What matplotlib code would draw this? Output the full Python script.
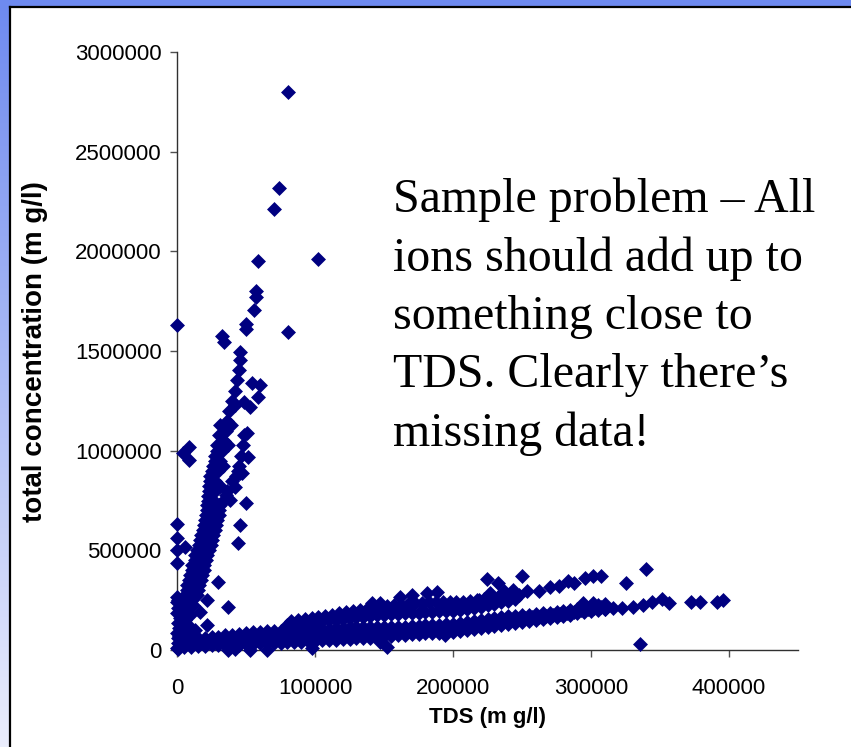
import matplotlib
matplotlib.use("Agg")
import numpy as np
import matplotlib.pyplot as plt
from matplotlib.patches import Rectangle
from matplotlib.lines import Line2D

# ---- data (TDS vs total concentration, mg/l) ----
# steep band (ions summed far above TDS)
steep_x = [5800, 7300, 9100, 10900, 13000, 14900, 16700, 18800, 21000, 22800, 24600, 25700,
           26800, 27500, 27600, 29400, 31200, 32600, 34000, 35200, 36300, 38000, 39900, 41700,
           43500, 44600, 45700, 45700]
steep_y = [150000, 200000, 250000, 300000, 350000, 400000, 450000, 500000, 550000, 600000,
           650000, 700000, 750000, 800000, 850000, 900000, 950000, 1000000, 1050000, 1100000,
           1150000, 1200000, 1250000, 1300000, 1355000, 1405000, 1455000, 1495000]
steep_left_x = [3000, 4500, 3800, 5600, 7400, 9400, 11200, 13400, 15600, 17400, 19600, 21000,
                22100, 22800, 23200, 23900, 26100, 27500, 29000, 30400, 31500]
steep_left_y = [75000, 110000, 225000, 275000, 325000, 375000, 425000, 475000, 525000, 575000,
                625000, 675000, 725000, 775000, 825000, 875000, 925000, 975000, 1030000,
                1080000, 1130000]
steep_mid_x = [8000, 9500, 11500, 13200, 15000, 17000, 19000, 21000, 23000, 25000, 26800, 28000]
steep_mid_y = [125000, 175000, 225000, 275000, 325000, 375000, 425000, 475000, 525000, 575000,
               625000, 675000]
steep_right_x = [14300, 16200, 18100, 19900, 22100, 24300, 26100, 28300, 30100, 30400, 31200,
                 33400, 37000, 39200, 42000]
steep_right_y = [275000, 325000, 375000, 425000, 475000, 525000, 575000, 625000, 675000,
                 725000, 825000, 925000, 1028000, 1128000, 1228000]
steep_fill_x = [7000, 15400, 9000, 17500, 11000, 19400, 12700, 21200, 14800, 23300, 17000,
                25500, 18800, 27300, 20600, 29100, 21700, 30200, 22800, 33000, 23500, 24000,
                25500, 27500, 29000, 36000, 40000, 44000]
steep_fill_y = [300000, 300000, 350000, 350000, 400000, 400000, 450000, 450000, 500000,
                500000, 550000, 550000, 600000, 600000, 650000, 650000, 700000, 700000,
                750000, 750000, 800000, 850000, 900000, 950000, 1000000, 800000, 850000,
                900000]
branch_x = [31200, 35500, 38400, 42000, 42800, 45000, 45700, 47100, 46400, 47900, 48600,
            50700, 51500, 52900, 58700, 60200, 54400, 48600]
branch_y = [725000, 777000, 752000, 817000, 875000, 925000, 888000, 888000, 975000, 1030000,
            1080000, 1088000, 968000, 1219000, 1269000, 1329000, 1339000, 1244000]

# points hugging the y axis / the blob at the origin
axis_x = [0, 500, 1000, 0, 1500, 500, 2000, 0, 1000, 2500, 0, 1500, 0, 500, 0, 0, 0, 0,
          5800, 4400, 8700, 8700, 0, 2000, 4000, 6000, 3000, 5000, 2500, 4500, 1000, 6500,
          8000, 10000]
axis_y = [10000, 35000, 60000, 85000, 110000, 135000, 160000, 185000, 210000, 40000, 240000,
          70000, 265000, 5000, 436000, 501500, 562000, 632000, 516500, 988000, 1018000,
          953000, 1630000, 20000, 30000, 80000, 130000, 160000, 190000, 210000, 250000,
          120000, 60000, 90000]

# flat lower band: bottom, middle and top rows
low_bot_x = [5000, 10000, 15000, 20000, 25000, 30000, 35000, 40000, 45000, 50000, 55000,
             60000, 65000, 70000, 75000, 80000, 85000, 90000, 95000, 100000, 105000, 110000,
             115000, 120000, 125000, 130000, 135000, 140000, 145000, 150000, 155000, 160000,
             165000, 170000, 175000, 180000, 185000, 190000, 195000, 200000, 205000, 210000,
             215000, 220000, 225000, 230000, 235000, 240000, 245000, 250000, 255000, 260000,
             265000, 270000, 275000, 280000, 285000, 290000, 295000, 300000, 305000, 310000]
low_bot_y = [13000, 16000, 19000, 22000, 24000, 23000, 23000, 25000, 27000, 30000, 32000,
             33000, 35000, 35000, 37000, 38000, 39000, 42000, 44000, 46000, 48000, 50000,
             52000, 55000, 57000, 59000, 60000, 62000, 65000, 68000, 71000, 75000, 77000,
             79000, 81000, 83000, 85000, 87000, 89000, 91000, 94000, 98000, 103000, 108000,
             114000, 120000, 126000, 130000, 135000, 140000, 146000, 151000, 156000, 162000,
             167000, 173000, 178000, 184000, 190000, 196000, 202000, 208000]
low_mid_x = [2500, 7500, 12500, 17500, 22500, 27500, 32500, 37500, 42500, 47500, 52500,
             57500, 62500, 67500, 72500, 77500, 82500, 87500, 92500, 97500, 102500, 107500,
             112500, 117500, 122500, 127500, 132500, 137500, 142500, 147500, 152500, 157500,
             162500, 167500, 172500, 177500, 182500, 187500, 192500, 197500, 202500, 207500,
             212500, 217500, 222500, 227500, 232500, 237500, 242500, 247500, 252500, 257500,
             262500, 267500, 272500, 277500, 282500, 287500, 292500, 297500, 302500, 307500]
low_mid_y = [31000, 35000, 38000, 41000, 43000, 45000, 47000, 50000, 53000, 56000, 59000,
             61000, 63000, 65000, 66000, 68000, 69000, 70000, 71000, 73000, 75000, 77000,
             79000, 82000, 84000, 86000, 88000, 89000, 90000, 92000, 93000, 94000, 96000,
             98000, 100000, 102000, 104000, 106000, 108000, 110000, 113000, 116000, 121000,
             126000, 131000, 137000, 143000, 148000, 152000, 156000, 160000, 164000, 168000,
             173000, 178000, 183000, 188000, 193000, 199000, 205000, 211000, 217000]
low_top_x = low_bot_x
low_top_y = [53000, 56000, 59000, 62000, 64000, 67000, 73000, 77000, 81000, 86000, 88000,
             91000, 93000, 95000, 97000, 98000, 99000, 98000, 100000, 102000, 104000, 106000,
             108000, 111000, 113000, 115000, 116000, 116000, 117000, 116000, 115000, 115000,
             117000, 119000, 121000, 123000, 125000, 127000, 129000, 131000, 134000, 138000,
             143000, 148000, 154000, 160000, 166000, 170000, 173000, 176000, 178000, 180000,
             184000, 188000, 192000, 197000, 202000, 208000, 214000, 220000, 226000, 232000]

# second (upper) flat band
mid_bot_x = [80000, 85000, 90000, 95000, 100000, 105000, 110000, 115000, 120000, 125000,
             130000, 135000, 140000, 145000, 150000, 155000, 160000, 165000, 170000, 175000,
             180000, 185000, 190000, 195000, 200000, 205000, 210000, 215000, 220000, 225000,
             230000, 235000, 240000, 245000]
mid_bot_y = [125000, 128000, 132000, 136000, 140000, 144000, 148000, 152000, 156000, 160000,
             164000, 168000, 172000, 175000, 178000, 180000, 182000, 184000, 186000, 188000,
             190000, 192000, 194000, 196000, 198000, 201000, 205000, 210000, 216000, 224000,
             232000, 240000, 248000, 255000]
mid_top_x = [82500, 87500, 92500, 97500, 102500, 107500, 112500, 117500, 122500, 127500,
             132500, 137500, 142500, 147500, 152500, 157500, 162500, 167500, 172500, 177500,
             182500, 187500, 192500, 197500, 202500, 207500, 212500, 217500, 222500, 227500,
             232500, 237500, 242500, 247500]
mid_top_y = [145000, 150000, 155000, 160000, 165000, 172000, 178000, 184000, 190000, 196000,
             201000, 206000, 211000, 216000, 220000, 224000, 228000, 232000, 235000, 238000,
             240000, 242000, 242000, 241000, 241000, 242000, 245000, 249000, 254000, 259000,
             264000, 269000, 274000, 278000]

# sparse tails and outliers
tail_x = [224700, 232700, 250000, 253700, 262500, 270400, 277000, 283500, 288000, 295800,
          301600, 307400, 325500, 340000, 181000, 188500, 161700, 170000, 141000, 147000,
          227000, 243600, 237000, 219000,
          294000, 301600, 310000, 316000, 322500, 330600, 337800, 344400, 351600, 356700,
          372600, 379200, 391500, 395900, 335700]
tail_y = [356000, 336000, 371000, 296000, 296000, 316000, 321000, 346000, 336000, 361000,
          371000, 371000, 336000, 406000, 286000, 291000, 266000, 276000, 236000, 236000,
          286000, 301000, 296000, 251000,
          236000, 235000, 205000, 211000, 211000, 216000, 225000, 241000, 256000, 236000,
          241000, 241000, 241000, 251000, 30000]
outlier_x = [80500, 74000, 70300, 58700, 102000, 57300, 57300, 55800, 50000, 50000, 32600,
             34000, 80500, 50000, 45700, 44200, 29700, 21700, 16700, 21700, 37000, 13000,
             37000, 42000, 53000, 65000, 97900, 147000, 152000, 194300]
outlier_y = [2798000, 2317000, 2211000, 1951000, 1961000, 1800000, 1770000, 1705000, 1635000,
             1610000, 1575000, 1545000, 1595000, 737000, 627000, 537000, 341000, 250000,
             190000, 125000, 215000, 100000, 0, 5000, 0, 0, 10000, 40000, 15000, 75000]

x_ticks = [0, 100000, 200000, 300000, 400000]
x_tick_labels = ["0", "100000", "200000", "300000", "400000"]
y_ticks = [0, 500000, 1000000, 1500000, 2000000, 2500000, 3000000]
y_tick_labels = ["0", "500000", "1000000", "1500000", "2000000", "2500000", "3000000"]

note = ("Sample problem \u2013 All\nions should add up to\nsomething close to\n"
        "TDS. Clearly there\u2019s\nmissing data!")

plt.rcParams['font.family'] = ['Liberation Sans', 'DejaVu Sans']

W, H = 851, 747
fig = plt.figure(figsize=(W / 100, H / 100), dpi=100, facecolor='white')

# slide frame: blue strip on top, gradient strip on the left, thin black edge
grad = np.linspace(0, 1, 256).reshape(-1, 1)
top_col = np.array([0.43, 0.54, 0.94])
bot_col = np.array([0.92, 0.93, 0.99])
strip = top_col + (bot_col - top_col) * grad[:, :, None]
frame_ax = fig.add_axes([0, 0, 9 / W, 1])
frame_ax.imshow(strip, aspect='auto', extent=(0, 1, 0, 1))
frame_ax.set_axis_off()
fig.patches.append(Rectangle((0, 1 - 6 / H), 1, 6 / H, transform=fig.transFigure,
                             facecolor=top_col, edgecolor='none', zorder=1))
fig.lines.append(Line2D([9.5 / W, 1], [1 - 7 / H, 1 - 7 / H], transform=fig.transFigure,
                        color='black', linewidth=1.6))
fig.lines.append(Line2D([9.5 / W, 9.5 / W], [0, 1 - 7 / H], transform=fig.transFigure,
                        color='black', linewidth=1.6))

ax = fig.add_axes([177 / W, (H - 650) / H, 621 / W, 598 / H])

xs = steep_x + steep_left_x + steep_mid_x + steep_right_x + steep_fill_x + branch_x + \
    axis_x + low_bot_x + low_mid_x + low_top_x + mid_bot_x + mid_top_x + tail_x + outlier_x
ys = steep_y + steep_left_y + steep_mid_y + steep_right_y + steep_fill_y + branch_y + \
    axis_y + low_bot_y + low_mid_y + low_top_y + mid_bot_y + mid_top_y + tail_y + outlier_y
ax.scatter(xs, ys, marker='D', s=58, color='#000080', linewidths=0, clip_on=False, zorder=3)

ax.set_xlim(0, 450000)
ax.set_ylim(0, 3000000)
ax.set_xticks(x_ticks)
ax.set_xticklabels(x_tick_labels)
ax.set_yticks(y_ticks)
ax.set_yticklabels(y_tick_labels)
for side in ['top', 'right']:
    ax.spines[side].set_visible(False)
for side in ['left', 'bottom']:
    ax.spines[side].set_color('#303030')
    ax.spines[side].set_linewidth(1.0)
ax.tick_params(axis='both', direction='out', length=5, width=1, color='#505050',
               labelsize=16, labelcolor='black')
ax.tick_params(axis='y', pad=6)
ax.tick_params(axis='x', pad=15)

ax.set_xlabel('TDS (m g/l)', fontsize=16, fontweight='bold')
ax.xaxis.set_label_coords(0.5, (650 - 718) / 598)
ax.xaxis.label.set_va('center')
ax.set_ylabel('total concentration (m g/l)', fontsize=20, fontweight='bold')
ax.yaxis.set_label_coords((35 - 177) / 621, (650 - 352) / 598)
ax.yaxis.label.set_va('center')

fig.text(393 / W, 1 - 178 / H, note, ha='left', va='top', fontsize=34.5,
         family=['Liberation Serif', 'DejaVu Serif'], linespacing=1.41)

fig.savefig('out.png', dpi=100, facecolor='white')
